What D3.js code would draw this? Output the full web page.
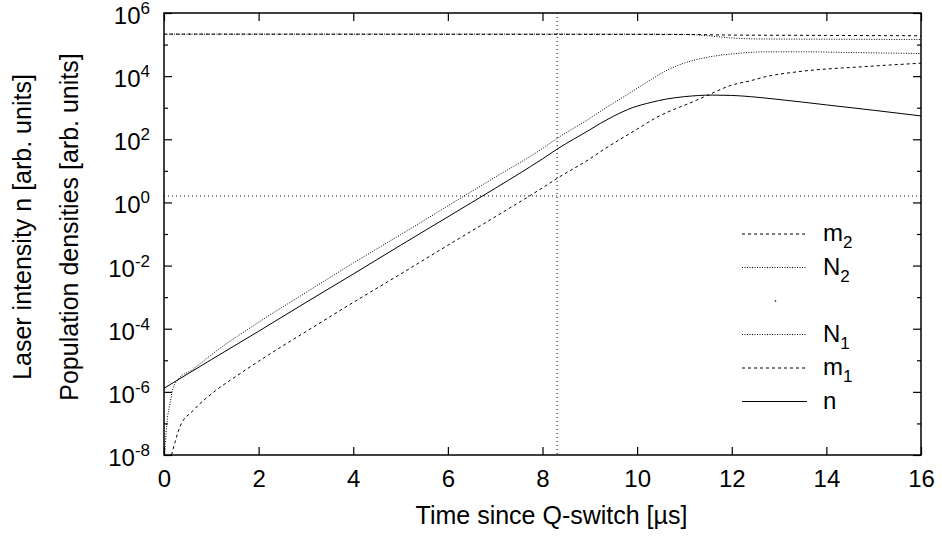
<!DOCTYPE html>
<html>
<head>
<meta charset="utf-8">
<script src="https://cdn.jsdelivr.net/npm/d3@7"></script>
<style>
  body { margin: 0; background: #fff; }
  svg text { font-family: "Liberation Sans", Arial, sans-serif; fill: #000; }
</style>
</head>
<body>
<svg id="chart" width="942" height="536"></svg>
<script>
// time axis [us]
var xTicks = [0, 2, 4, 6, 8, 10, 12, 14, 16];
// decades shown on the log axis, labelled every second one
var yMajorExp = [-8, -6, -4, -2, 0, 2, 4, 6];
var yMinorExp = [-7, -5, -3, -1, 1, 3, 5];

// laser intensity n  [t, value]
var nSeries = [[0, 1.3e-6], [1, 1.05e-5], [2, 8.3e-5], [3, 6.8e-4], [4, 5.4e-3], [5, 4.4e-2],
  [6, 0.35], [7, 2.8], [8, 24], [8.31, 49], [9, 200], [9.22, 316], [9.5, 537], [9.9, 1000],
  [10.3, 1480], [10.6, 1860], [11, 2240], [11.6, 2510], [12, 2450], [12.4, 2240], [13, 1820],
  [14, 1230], [15, 830], [16, 550]];

// lower level population N1
var n1Series = [[0, 5e-9], [0.06, 1e-7], [0.13, 4.4e-7], [0.18, 1.15e-6], [0.3, 2.5e-6],
  [0.6, 5.0e-6], [1, 1.5e-5], [2, 1.6e-4], [3, 1.4e-3], [4, 1.2e-2], [5, 0.095], [6, 0.78],
  [7, 6.3], [8, 51], [8.31, 107], [9, 460], [9.22, 760], [9.5, 1400], [9.9, 3300], [10.3, 7900],
  [10.6, 14500], [10.9, 23000], [11.3, 34700], [11.7, 44700], [12.2, 53700], [12.7, 58900],
  [13.5, 59000], [14.5, 56000], [16, 52000]];

// m1
var m1Series = [[0.16, 1e-8], [0.34, 8e-8], [0.62, 2.6e-7], [1.11, 1.15e-6], [1.5, 2.95e-6],
  [2, 9.3e-6], [2.5, 2.8e-5], [3, 8.1e-5], [4, 6.8e-4], [5, 5.4e-3], [6, 0.044], [7, 0.35],
  [8, 2.9], [8.31, 5.8], [9, 24], [9.22, 40], [10, 210], [10.4, 480], [11.26, 1740],
  [11.47, 2400], [12, 5200], [12.39, 7100], [12.7, 9500], [13.4, 13800], [14.8, 20000],
  [16, 25700]];

// upper level N2 and m2
var n2Series = [[0, 2.14e5], [10, 2.14e5], [11, 2.09e5], [11.5, 1.9e5], [12, 1.62e5],
  [12.5, 1.51e5], [14, 1.48e5], [16, 1.45e5]];
var m2Series = [[0, 2.14e5], [11, 2.09e5], [12, 2.0e5], [14, 1.95e5], [16, 1.9e5]];

// markers: threshold level and time of the vertical line
var refLevel = 1.6;
var refTime = 8.31;

var legendLabels = [["m", "2"], ["N", "2"], ["", ""], ["N", "1"], ["m", "1"], ["n", ""]];
var legendDash = ["3,3", "1,1.5", "dot", "1,1.5", "3,3", null];

var svg = d3.select("#chart");
var margin = {left: 164, right: 21, top: 13, bottom: 81};
var W = 942, H = 536;

var x = d3.scaleLinear().domain([0, 16]).range([margin.left, W - margin.right]);
var y = d3.scaleLog().domain([1e-8, 1e6]).range([H - margin.bottom, margin.top]);

svg.append("clipPath").attr("id", "plotclip")
  .append("rect")
  .attr("x", x(0)).attr("y", y(1e6))
  .attr("width", x(16) - x(0)).attr("height", y(1e-8) - y(1e6));

var line = d3.line()
  .x(function (d) { return x(d[0]); })
  .y(function (d) { return y(d[1]); })
  .curve(d3.curveMonotoneX);

var plot = svg.append("g").attr("clip-path", "url(#plotclip)");

// reference lines
plot.append("line")
  .attr("x1", x(0)).attr("x2", x(16)).attr("y1", y(refLevel)).attr("y2", y(refLevel))
  .attr("stroke", "#000").attr("stroke-width", 1).attr("stroke-dasharray", "1,3");
plot.append("line")
  .attr("x1", x(refTime)).attr("x2", x(refTime)).attr("y1", y(1e6)).attr("y2", y(1e-8))
  .attr("stroke", "#000").attr("stroke-width", 1).attr("stroke-dasharray", "1,3");

var curves = [
  {data: m2Series, dash: "3,3"},
  {data: n2Series, dash: "1,1.5"},
  {data: n1Series, dash: "1,1.5"},
  {data: m1Series, dash: "3,3"},
  {data: nSeries, dash: null}
];
curves.forEach(function (c) {
  plot.append("path")
    .attr("d", line(c.data))
    .attr("fill", "none")
    .attr("stroke", "#000")
    .attr("stroke-width", 1)
    .attr("stroke-dasharray", c.dash);
});

// axes: ticks pointing inward on all four sides
var fontSize = 24, smallSize = 17;
var axisBottom = svg.append("g").attr("transform", "translate(0," + y(1e-8) + ")")
  .call(d3.axisBottom(x).tickValues(xTicks).tickSize(-8).tickPadding(15).tickFormat(d3.format("d")));
svg.append("g").attr("transform", "translate(0," + y(1e6) + ")")
  .call(d3.axisTop(x).tickValues(xTicks).tickSize(-8).tickFormat(""));

var majorVals = yMajorExp.map(function (e) { return Math.pow(10, e); });
var minorVals = yMinorExp.map(function (e) { return Math.pow(10, e); });
svg.append("g").attr("transform", "translate(" + x(0) + ",0)")
  .call(d3.axisLeft(y).tickValues(majorVals).tickSize(-8).tickFormat(""));
svg.append("g").attr("transform", "translate(" + x(0) + ",0)")
  .call(d3.axisLeft(y).tickValues(minorVals).tickSize(-4).tickFormat(""));
svg.append("g").attr("transform", "translate(" + x(16) + ",0)")
  .call(d3.axisRight(y).tickValues(majorVals).tickSize(-8).tickFormat(""));
svg.append("g").attr("transform", "translate(" + x(16) + ",0)")
  .call(d3.axisRight(y).tickValues(minorVals).tickSize(-4).tickFormat(""));

svg.selectAll(".domain").remove();
svg.selectAll(".tick line").attr("stroke", "#000").attr("stroke-width", 1.2);
axisBottom.selectAll("text").attr("font-size", fontSize).attr("font-family", null);

// y tick labels as 10^e
yMajorExp.forEach(function (e) {
  var t = svg.append("text")
    .attr("x", 150).attr("y", y(Math.pow(10, e)) + 11)
    .attr("text-anchor", "end").attr("font-size", fontSize);
  t.append("tspan").text("10");
  t.append("tspan").attr("dy", -10).attr("font-size", smallSize).text(e);
});

// frame
svg.append("rect")
  .attr("x", x(0)).attr("y", y(1e6))
  .attr("width", x(16) - x(0)).attr("height", y(1e-8) - y(1e6))
  .attr("fill", "none").attr("stroke", "#000").attr("stroke-width", 1.5);

// axis titles
svg.append("text")
  .attr("x", (x(0) + x(16)) / 2 + 9).attr("y", 524)
  .attr("text-anchor", "middle").attr("font-size", 25)
  .text("Time since Q-switch [\u00b5s]");
svg.append("text")
  .attr("transform", "translate(31,227) rotate(-90)")
  .attr("text-anchor", "middle").attr("font-size", 25)
  .text("Laser intensity n [arb. units]");
svg.append("text")
  .attr("transform", "translate(78,227) rotate(-90)")
  .attr("text-anchor", "middle").attr("font-size", 25)
  .text("Population densities [arb. units]");

// legend
var legX0 = 742, legX1 = 807, legY0 = 234, legStep = 33.5;
legendLabels.forEach(function (lab, i) {
  var yy = legY0 + i * legStep;
  if (legendDash[i] === "dot") {
    svg.append("circle").attr("cx", (legX0 + legX1) / 2 + 1).attr("cy", yy).attr("r", 0.8).attr("fill", "#000");
  } else {
    svg.append("line")
      .attr("x1", legX0).attr("x2", legX1).attr("y1", yy).attr("y2", yy)
      .attr("stroke", "#000").attr("stroke-width", 1)
      .attr("stroke-dasharray", legendDash[i]);
  }
  if (lab[0]) {
    var t = svg.append("text").attr("x", 823).attr("y", yy + 7).attr("font-size", fontSize);
    t.append("tspan").text(lab[0]);
    if (lab[1]) t.append("tspan").attr("dy", 7).attr("font-size", smallSize).text(lab[1]);
  }
});
</script>
</body>
</html>
